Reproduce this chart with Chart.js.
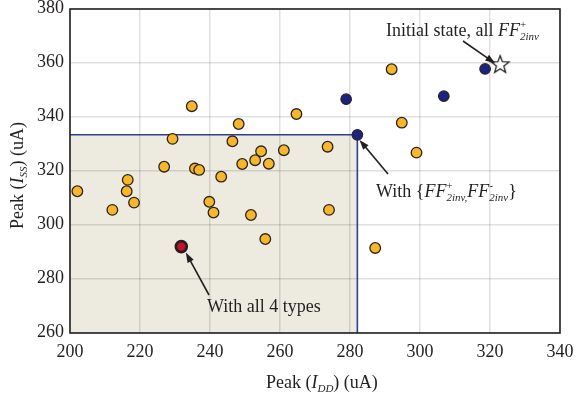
<!DOCTYPE html>
<html lang="en">
<head>
    <meta charset="UTF-8">
    <title>Peak IDD vs Peak ISS</title>
    <script src="https://cdn.jsdelivr.net/npm/chart.js"></script>
    <style>
        body { margin: 0; background: #fff; }
    </style>
</head>
<body>
    <canvas id="myChart" width="576" height="398"></canvas>

    <script>
        // puntos amarillos (otras configuraciones)
        const otherX = [202.1, 212.1, 216.2, 216.5, 218.3, 226.9, 229.3, 234.8, 235.7, 236.9, 239.8, 241.0, 243.2, 246.4, 248.2,
                        249.2, 252.9, 254.6, 256.8, 251.7, 255.8, 261.1, 264.7, 273.6, 274.0, 291.9, 294.8, 299.0, 287.2];
        const otherY = [312.5, 305.6, 312.5, 316.7, 308.3, 321.6, 331.9, 344.0, 320.9, 320.4, 308.6, 304.6, 317.9, 331.0, 337.4,
                        322.6, 324.0, 327.3, 322.7, 303.7, 294.8, 327.7, 341.1, 329.0, 305.6, 357.7, 337.9, 326.8, 291.5];
        // puntos azules
        const pathX = [318.6, 306.8, 278.9, 282.1];
        const pathY = [357.8, 347.7, 346.6, 333.4];
        // estado inicial (estrella)
        const initX = [322.9];
        const initY = [359.6];
        // con los 4 tipos (rojo)
        const allX = [231.8];
        const allY = [292.0];
        // region sombreada (esquina superior derecha)
        const regionX = [200, 282.1];
        const regionY = [260, 333.4];
        const xTicks = [200, 220, 240, 260, 280, 300, 320, 340];
        const yTicks = [260, 280, 300, 320, 340, 360, 380];

        const toPts = (xs, ys) => xs.map((x, i) => ({x: x, y: ys[i]}));
        const serif = '"Liberation Serif", "DejaVu Serif", serif';
        const ink = '#231f20';

        // estrella de 5 puntas
        function starImage() {
            const c = document.createElement('canvas');
            c.width = 22; c.height = 22;
            const g = c.getContext('2d');
            g.beginPath();
            for (let i = 0; i < 10; i++) {
                const r = i % 2 === 0 ? 9.3 : 3.9;
                const a = -Math.PI / 2 + i * Math.PI / 5;
                g.lineTo(11 + r * Math.cos(a), 11.8 + r * Math.sin(a));
            }
            g.closePath();
            g.fillStyle = '#fff';
            g.fill();
            g.lineWidth = 1.3;
            g.strokeStyle = '#222';
            g.stroke();
            return c;
        }

        // dibuja texto con partes (normal, cursiva, super/subindice)
        function richText(ctx, parts, x, y) {
            let cx = x;
            for (const p of parts) {
                if (p.sup !== undefined || p.sub !== undefined) {
                    let w = 0;
                    if (p.sup !== undefined) {
                        ctx.font = '11px ' + serif;
                        ctx.fillText(p.sup, cx, y - 8);
                        w = Math.max(w, ctx.measureText(p.sup).width);
                    }
                    if (p.sub !== undefined) {
                        ctx.font = 'italic 11px ' + serif;
                        ctx.fillText(p.sub, cx, y + 4);
                        w = Math.max(w, ctx.measureText(p.sub).width);
                    }
                    cx += w;
                } else {
                    ctx.font = (p.i ? 'italic ' : '') + '18px ' + serif;
                    ctx.fillText(p.t, cx, y);
                    cx += ctx.measureText(p.t).width;
                }
            }
            return cx - x;
        }

        function arrow(ctx, x1, y1, x2, y2) {
            const a = Math.atan2(y2 - y1, x2 - x1);
            const hl = 10, hw = 3.5;
            ctx.beginPath();
            ctx.moveTo(x1, y1);
            ctx.lineTo(x2 - hl * 0.8 * Math.cos(a), y2 - hl * 0.8 * Math.sin(a));
            ctx.lineWidth = 1.6;
            ctx.strokeStyle = ink;
            ctx.stroke();
            ctx.beginPath();
            ctx.moveTo(x2, y2);
            ctx.lineTo(x2 - hl * Math.cos(a) + hw * Math.sin(a), y2 - hl * Math.sin(a) - hw * Math.cos(a));
            ctx.lineTo(x2 - hl * Math.cos(a) - hw * Math.sin(a), y2 - hl * Math.sin(a) + hw * Math.cos(a));
            ctx.closePath();
            ctx.fillStyle = ink;
            ctx.fill();
        }

        const overlay = {
            id: 'overlay',
            beforeDraw(chart) {
                const {ctx, scales: {x, y}} = chart;
                const l = x.getPixelForValue(regionX[0]), r = x.getPixelForValue(regionX[1]);
                const t = y.getPixelForValue(regionY[1]), b = y.getPixelForValue(regionY[0]);
                ctx.save();
                ctx.fillStyle = '#edeae0';
                ctx.fillRect(l, t, r - l, b - t);
                ctx.restore();
            },
            beforeDatasetsDraw(chart) {
                const {ctx, chartArea: ca, scales: {x, y}} = chart;
                const l = x.getPixelForValue(regionX[0]), r = x.getPixelForValue(regionX[1]);
                const t = y.getPixelForValue(regionY[1]), b = y.getPixelForValue(regionY[0]);
                ctx.save();
                ctx.strokeStyle = '#2e3f8f';
                ctx.lineWidth = 1.6;
                ctx.beginPath();
                ctx.moveTo(l, t);
                ctx.lineTo(r, t);
                ctx.lineTo(r, b);
                ctx.stroke();
                // marco
                ctx.strokeStyle = '#222';
                ctx.lineWidth = 1.6;
                ctx.strokeRect(ca.left, ca.top, ca.right - ca.left, ca.bottom - ca.top);
                ctx.restore();
            },
            afterDatasetsDraw(chart) {
                const {ctx, chartArea: ca, scales: {x, y}} = chart;
                ctx.save();
                ctx.fillStyle = ink;
                ctx.textBaseline = 'alphabetic';
                // anotaciones
                richText(ctx, [{t: 'Initial state, all '}, {t: 'FF', i: true}, {sup: '+', sub: '2inv'}], 386, 36);
                arrow(ctx, 463, 41, x.getPixelForValue(321.5), y.getPixelForValue(360.6) + 2);
                ctx.fillStyle = ink;
                richText(ctx, [{t: 'With {'}, {t: 'FF', i: true}, {sup: '+', sub: '2inv,'}, {t: 'FF', i: true}, {sup: '-', sub: '2inv'}, {t: '}'}], 376, 197);
                arrow(ctx, 388, 174, x.getPixelForValue(282.7), y.getPixelForValue(331.5));
                ctx.fillStyle = ink;
                richText(ctx, [{t: 'With all 4 types'}], 207, 312);
                arrow(ctx, 209, 295, x.getPixelForValue(233.1), y.getPixelForValue(289.8));
                // titulos de ejes
                ctx.fillStyle = ink;
                ctx.font = '18px ' + serif;
                const xt = [{t: 'Peak ('}, {t: 'I', i: true}, {sub: 'DD'}, {t: ') (uA)'}];
                richText(ctx, xt, 266, 388);
                ctx.translate(23, (ca.top + ca.bottom) / 2);
                ctx.rotate(-Math.PI / 2);
                richText(ctx, [{t: 'Peak ('}, {t: 'I', i: true}, {sub: 'SS'}, {t: ') (uA)'}], -58, 0);
                ctx.restore();
            }
        };

        const tickFont = {family: serif, size: 18};

        let grafica = new Chart(document.getElementById('myChart'), {
            type: 'scatter',
            data: {
                datasets: [{
                    label: 'Otros',
                    data: toPts(otherX, otherY),
                    backgroundColor: '#f8b62b',
                    borderColor: '#2a2320',
                    borderWidth: 1.3,
                    pointRadius: 5.3
                }, {
                    label: 'Camino',
                    data: toPts(pathX, pathY),
                    backgroundColor: '#1c2280',
                    borderColor: '#2a2320',
                    borderWidth: 1.1,
                    pointRadius: 5.3
                }, {
                    label: 'Todos',
                    data: toPts(allX, allY),
                    backgroundColor: '#c8102e',
                    borderColor: '#231f20',
                    borderWidth: 2.6,
                    pointRadius: 5.5
                }, {
                    label: 'Inicial',
                    data: toPts(initX, initY),
                    pointStyle: starImage()
                }]
            },
            options: {
                responsive: false,
                animation: false,
                layout: {padding: {top: 9, right: 16, left: 0, bottom: 0}},
                plugins: {
                    legend: {display: false},
                    tooltip: {enabled: false}
                },
                scales: {
                    x: {
                        type: 'linear',
                        min: xTicks[0],
                        max: xTicks[xTicks.length - 1],
                        afterBuildTicks: s => { s.ticks = xTicks.map(v => ({value: v})); },
                        afterFit: s => { s.height = 65; s.paddingLeft = 0; s.paddingRight = 0; },
                        grid: {color: 'rgba(0,0,0,0.12)', lineWidth: 1.5, drawTicks: false},
                        border: {display: false},
                        ticks: {font: tickFont, color: ink, padding: 8, maxRotation: 0}
                    },
                    y: {
                        min: yTicks[0],
                        max: yTicks[yTicks.length - 1],
                        afterBuildTicks: s => { s.ticks = yTicks.map(v => ({value: v})); },
                        afterFit: s => { s.width = 70; s.paddingTop = 0; s.paddingBottom = 0; },
                        grid: {color: 'rgba(0,0,0,0.12)', lineWidth: 1.5, drawTicks: false},
                        border: {display: false},
                        ticks: {font: tickFont, color: ink, padding: 6, labelOffset: -1}
                    }
                }
            },
            plugins: [overlay]
        });
    </script>
</body>
</html>
